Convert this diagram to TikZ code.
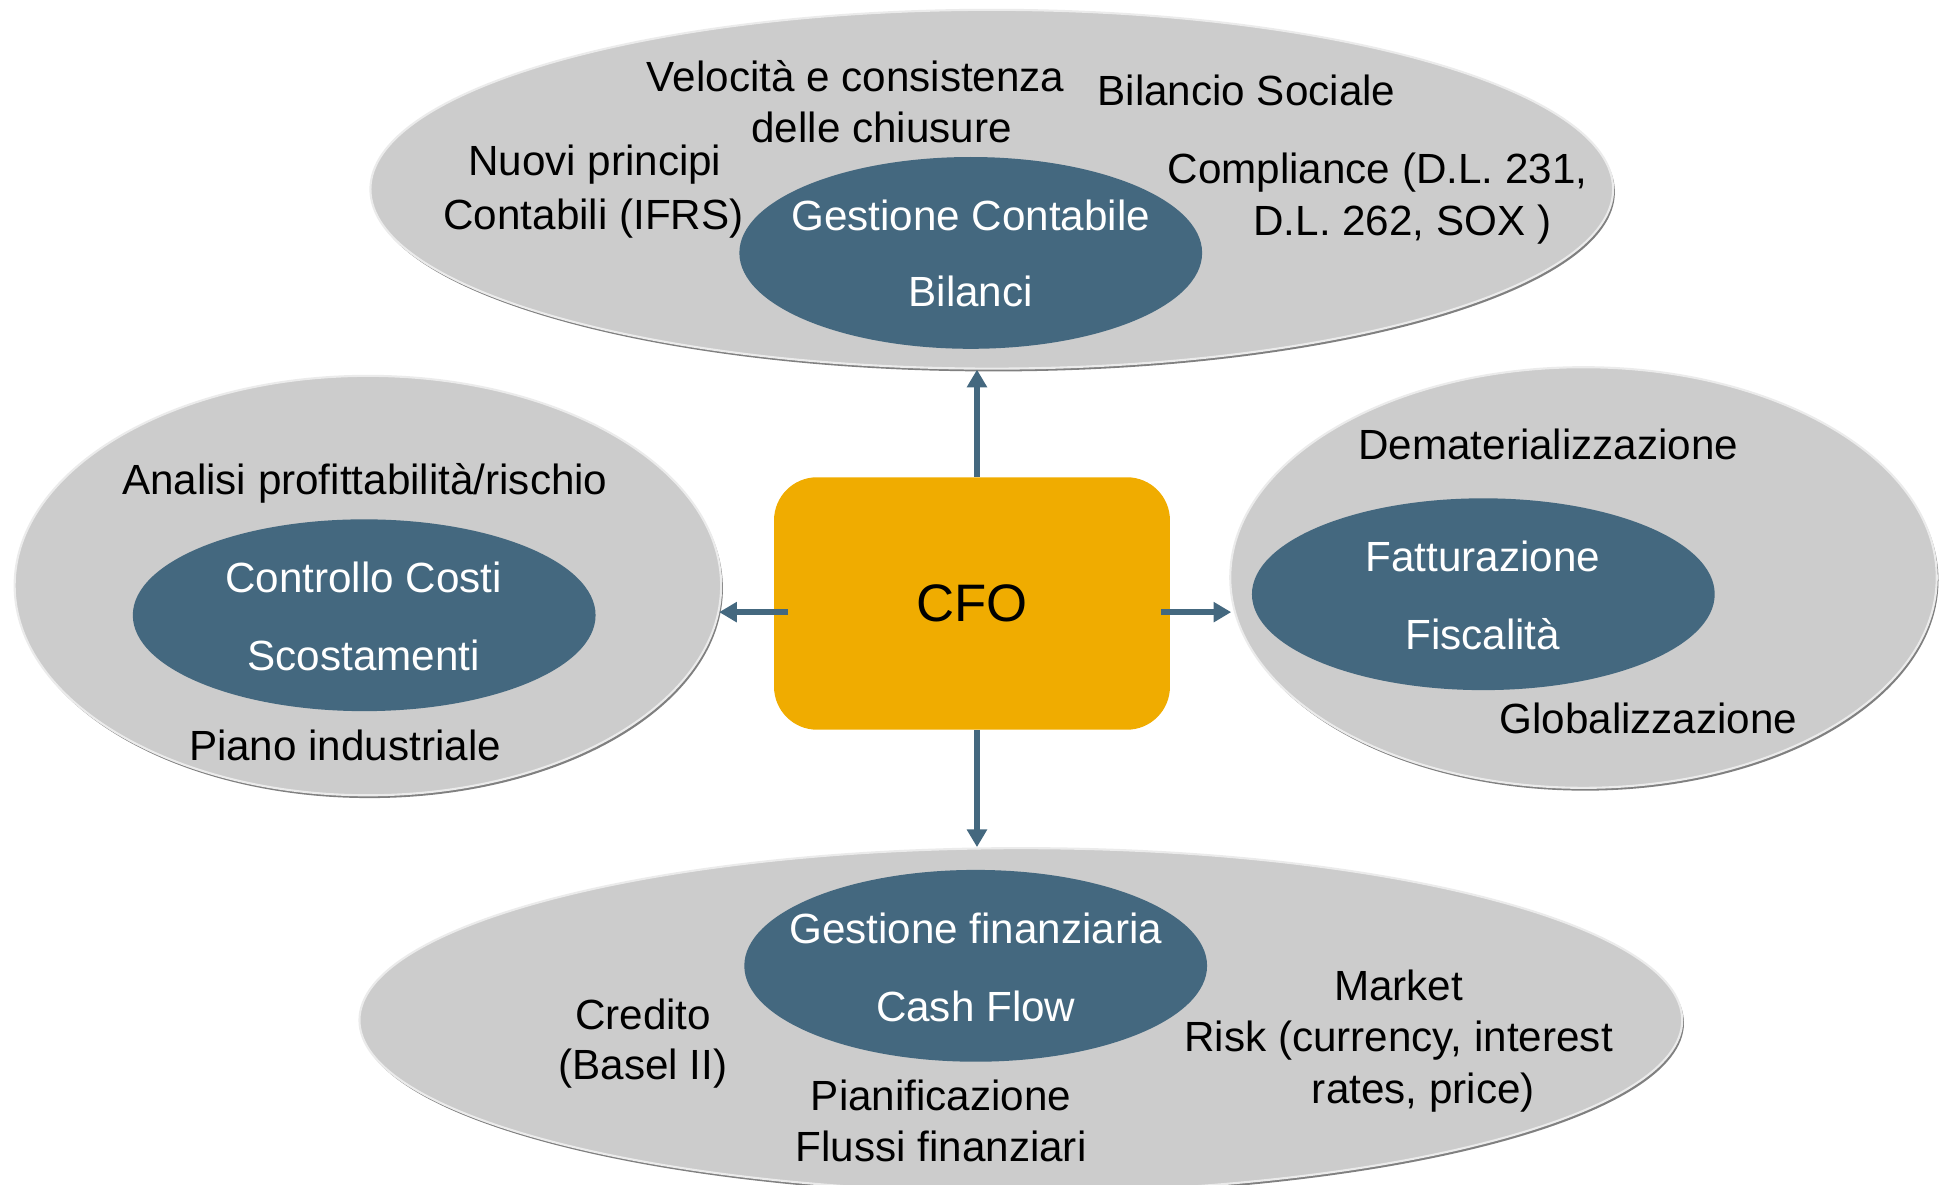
\documentclass[tikz,border=0pt]{standalone}
\usepackage{fontspec}
\setmainfont{Liberation Sans}
\usetikzlibrary{shapes.geometric,arrows.meta,shadows}
\definecolor{slate}{HTML}{44687F}
\definecolor{amber}{HTML}{F0AC00}
\definecolor{silver}{HTML}{CCCCCC}

\begin{document}
\begin{tikzpicture}[x=0.012366cm, y=-0.012366cm,
    outer/.style={ellipse, fill=silver, draw=black!8, line width=0.6pt, inner sep=0pt,
      drop shadow={shadow xshift=0.5pt, shadow yshift=-0.8pt, fill=black!50, opacity=1}},
    inner/.style={ellipse, fill=slate, inner sep=0pt, minimum width=4.625cm, minimum height=1.917cm},
    lbl/.style={font=\fontsize{12}{14.4}\selectfont, text height=8.6pt, text depth=0pt, inner sep=0pt},
    wlbl/.style={lbl, text=white},
    link/.style={draw=slate, line width=1.8pt, -{Triangle[width=5.5pt,length=5pt]}}]
    \useasboundingbox (0,0) rectangle (1568,958);
    \clip (0,0) rectangle (1568,958);

    % Outer areas
    \node[outer, minimum width=12.42cm, minimum height=3.586cm] (acct) at (802,153) {};
    \node[outer, minimum width=7.061cm, minimum height=4.192cm] (cost) at (297.5,473.5) {};
    \node[outer, minimum width=7.061cm, minimum height=4.204cm] (tax) at (1280.5,467) {};
    \node[outer, minimum width=13.22cm, minimum height=3.44cm] (fin) at (825.5,825) {};

    % Core areas
    \node[inner] (acctcore) at (785,204.5) {};
    \node[inner] (costcore) at (294.5,497.5) {};
    \node[inner] (taxcore) at (1199.5,480.5) {};
    \node[inner] (fincore) at (789,781) {};

    % Centre
    \node[rectangle, fill=amber, rounded corners=0.43cm, minimum width=3.957cm, minimum height=2.523cm,
      font=\fontsize{15}{18}\selectfont] (cfo) at (786,488) {CFO};

    % Links
    \coordinate (upstart) at ([xshift=0.05cm]cfo.north);
    \coordinate (downstart) at ([xshift=0.05cm]cfo.south);
    \coordinate (leftstart) at ([shift={(12,7)}]cfo.west);
    \coordinate (rightstart) at ([shift={(-8,7)}]cfo.east);
    \draw[link] (upstart) -- (upstart |- acct.south);
    \draw[link] (downstart) -- (downstart |- fin.north);
    \draw[link] (leftstart) -- ([xshift=-0.03cm]leftstart -| cost.east);
    \draw[link] (rightstart) -- ([xshift=0.02cm]rightstart -| tax.west);

    % Accounting
    \node[lbl] (velo) at (692,62) {Velocità e consistenza};
    \node[lbl] (chiu) at (713,103) {delle chiusure};
    \node[lbl] (bsoc) at (1008,73) {Bilancio Sociale};
    \node[lbl] (nuovi) at (481,130) {Nuovi principi};
    \node[lbl] (ifrs) at (480,173) {Contabili (IFRS)};
    \node[lbl] (comp) at (1114,136) {Compliance (D.L. 231,};
    \node[lbl] (sox) at (1134,178) {D.L. 262, SOX )};
    \node[wlbl] (gcont) at (785,174) {Gestione Contabile};
    \node[wlbl] (bil) at (785,236) {Bilanci};

    % Costs
    \node[lbl] (anal) at (295,388) {Analisi profittabilità/rischio};
    \node[wlbl] (ctrl) at (294,467) {Controllo Costi};
    \node[wlbl] (scost) at (294,530) {Scostamenti};
    \node[lbl] (piano) at (279,603) {Piano industriale};

    % Tax
    \node[lbl] (demat) at (1252,359) {Dematerializzazione};
    \node[wlbl] (fatt) at (1199,450) {Fatturazione};
    \node[wlbl] (fisc) at (1199,513) {Fiscalità};
    \node[lbl] (glob) at (1333,581) {Globalizzazione};

    % Finance
    \node[wlbl] (gfin) at (789,751) {Gestione finanziaria};
    \node[wlbl] (cash) at (789,814) {Cash Flow};
    \node[lbl] (cred) at (520,820) {Credito};
    \node[lbl] (basel) at (520,861) {(Basel II)};
    \node[lbl] (pian) at (761,886) {Pianificazione};
    \node[lbl] (flussi) at (761,927) {Flussi finanziari};
    \node[lbl] (mkt) at (1131,797) {Market};
    \node[lbl] (risk) at (1131,838) {Risk (currency, interest};
    \node[lbl] (rates) at (1151,880) {rates, price)};
\end{tikzpicture}
\end{document}
